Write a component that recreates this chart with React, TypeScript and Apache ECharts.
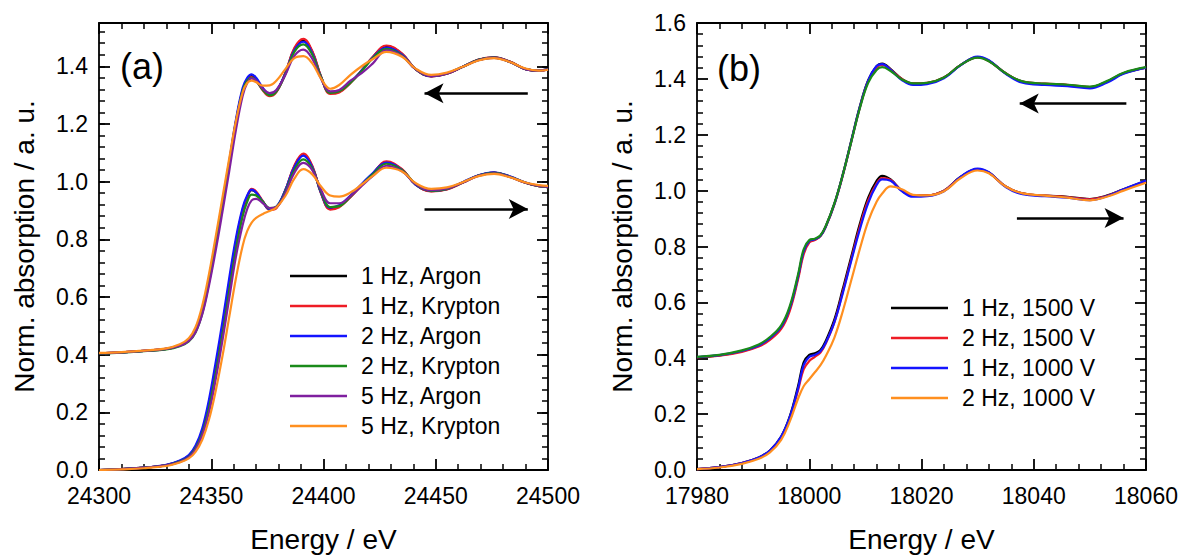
import React, { useEffect, useRef } from "react";
import * as echarts from "echarts";

const FONT = "'Liberation Sans', Arial, sans-serif";

// ---------- Panel (a) ----------
const xA = [24300,24310,24320,24330,24336,24340,24343,24346,24349,24352,24355,24358,24361,24364,24366,24368,24370,24373,24376,24379,24383,24387,24391,24395,24399,24403,24407,24412,24417,24422,24428,24435,24441,24448,24455,24462,24469,24476,24483,24490,24496,24500];

const namesA = ["1 Hz, Argon", "1 Hz, Krypton", "2 Hz, Argon", "2 Hz, Krypton", "5 Hz, Argon", "5 Hz, Krypton"];

// lower (forward) group
const loBlack = [0.000,0.003,0.008,0.017,0.031,0.049,0.080,0.136,0.232,0.358,0.498,0.648,0.792,0.902,0.946,0.970,0.962,0.930,0.904,0.910,0.970,1.052,1.093,1.052,0.958,0.906,0.914,0.948,0.988,1.028,1.068,1.042,0.990,0.967,0.974,0.997,1.021,1.031,1.017,0.996,0.984,0.981];
const loRed = [0.000,0.003,0.008,0.017,0.031,0.049,0.080,0.135,0.230,0.355,0.495,0.645,0.790,0.902,0.948,0.975,0.966,0.932,0.902,0.908,0.970,1.055,1.097,1.055,0.958,0.903,0.911,0.946,0.987,1.028,1.070,1.043,0.990,0.966,0.973,0.996,1.021,1.031,1.017,0.996,0.984,0.981];
const loBlue = [0.000,0.003,0.008,0.018,0.033,0.052,0.085,0.145,0.245,0.375,0.515,0.665,0.805,0.910,0.952,0.972,0.962,0.930,0.905,0.912,0.970,1.050,1.090,1.050,0.960,0.910,0.918,0.952,0.992,1.030,1.066,1.040,0.990,0.968,0.975,0.998,1.022,1.032,1.018,0.997,0.985,0.982];
const loGreen = [0.000,0.003,0.008,0.016,0.029,0.046,0.075,0.127,0.215,0.335,0.470,0.620,0.765,0.880,0.930,0.955,0.952,0.930,0.908,0.913,0.965,1.040,1.077,1.045,0.965,0.912,0.915,0.948,0.988,1.026,1.062,1.040,0.992,0.968,0.975,0.997,1.021,1.030,1.017,0.996,0.984,0.981];
const loPurple = [0.000,0.003,0.008,0.016,0.028,0.044,0.071,0.120,0.200,0.315,0.450,0.595,0.740,0.850,0.905,0.935,0.940,0.925,0.908,0.912,0.960,1.030,1.065,1.040,0.970,0.925,0.925,0.950,0.985,1.020,1.055,1.036,0.992,0.970,0.976,0.997,1.020,1.029,1.016,0.996,0.985,0.982];
const loOrange = [0.000,0.002,0.006,0.014,0.026,0.040,0.063,0.105,0.175,0.275,0.395,0.530,0.665,0.778,0.828,0.858,0.874,0.888,0.898,0.910,0.950,1.010,1.043,1.025,0.982,0.952,0.948,0.962,0.990,1.020,1.048,1.035,0.995,0.975,0.980,0.998,1.019,1.027,1.015,0.997,0.988,0.985];

// upper (backward) group
const upBlack = [0.405,0.408,0.413,0.420,0.432,0.450,0.482,0.550,0.658,0.788,0.924,1.064,1.208,1.318,1.354,1.366,1.356,1.322,1.300,1.313,1.376,1.460,1.490,1.450,1.362,1.308,1.312,1.343,1.385,1.432,1.470,1.443,1.390,1.365,1.374,1.398,1.422,1.431,1.416,1.390,1.384,1.389];
const upRed = [0.405,0.408,0.413,0.420,0.432,0.450,0.482,0.549,0.656,0.786,0.922,1.062,1.206,1.316,1.352,1.362,1.350,1.316,1.296,1.310,1.376,1.463,1.495,1.453,1.362,1.304,1.309,1.342,1.385,1.433,1.472,1.444,1.390,1.365,1.374,1.398,1.423,1.431,1.416,1.390,1.384,1.389];
const upBlue = [0.405,0.408,0.413,0.420,0.433,0.452,0.485,0.555,0.665,0.795,0.930,1.070,1.215,1.325,1.360,1.372,1.360,1.325,1.303,1.315,1.375,1.455,1.485,1.445,1.360,1.310,1.315,1.345,1.385,1.430,1.465,1.440,1.390,1.366,1.375,1.398,1.422,1.430,1.415,1.390,1.385,1.390];
const upGreen = [0.404,0.407,0.412,0.418,0.429,0.446,0.477,0.543,0.650,0.780,0.917,1.058,1.202,1.314,1.350,1.360,1.350,1.318,1.299,1.312,1.372,1.450,1.476,1.440,1.360,1.308,1.313,1.343,1.383,1.428,1.460,1.437,1.390,1.367,1.375,1.398,1.422,1.430,1.415,1.390,1.385,1.390];
const upPurple = [0.405,0.408,0.413,0.420,0.431,0.448,0.478,0.540,0.640,0.762,0.896,1.036,1.180,1.298,1.342,1.358,1.350,1.322,1.307,1.318,1.370,1.436,1.458,1.426,1.355,1.313,1.318,1.350,1.376,1.410,1.455,1.435,1.390,1.366,1.375,1.398,1.421,1.429,1.415,1.390,1.385,1.389];
const upOrange = [0.406,0.409,0.414,0.422,0.436,0.457,0.495,0.570,0.680,0.810,0.945,1.080,1.210,1.310,1.342,1.350,1.345,1.333,1.334,1.350,1.390,1.428,1.435,1.410,1.356,1.322,1.335,1.370,1.400,1.425,1.450,1.433,1.392,1.370,1.378,1.398,1.420,1.428,1.415,1.392,1.385,1.388];

// arrows (data coordinates): [fromX, toX, y]
const arrowsA = [[24491, 24445, 1.306], [24445, 24491, 0.905]];

// ---------- Panel (b) ----------
const xB = [17980,17984,17988,17991,17993,17995,17996.5,17998,17999,18000,18001,18002,18003,18004.5,18006,18007.5,18009,18010.5,18012,18013,18014.5,18016.5,18018.5,18021,18024,18027,18030,18032,18035,18038,18042,18046,18050,18053,18056,18060];

const namesB = ["1 Hz, 1500 V", "2 Hz, 1500 V", "1 Hz, 1000 V", "2 Hz, 1000 V"];

const bLoBlack = [0.003,0.010,0.025,0.045,0.070,0.120,0.190,0.300,0.385,0.412,0.418,0.430,0.465,0.540,0.650,0.765,0.880,0.975,1.035,1.053,1.040,1.000,0.982,0.983,1.000,1.050,1.077,1.065,1.015,0.990,0.982,0.978,0.970,0.982,1.005,1.035];
const bLoRed = [0.003,0.010,0.025,0.044,0.068,0.116,0.182,0.285,0.360,0.390,0.405,0.420,0.455,0.530,0.640,0.755,0.870,0.965,1.025,1.045,1.038,1.000,0.982,0.983,1.000,1.048,1.076,1.064,1.015,0.990,0.982,0.977,0.969,0.981,1.004,1.034];
const bLoBlue = [0.003,0.010,0.025,0.045,0.070,0.120,0.188,0.292,0.375,0.405,0.412,0.425,0.458,0.530,0.635,0.750,0.860,0.955,1.020,1.040,1.035,0.998,0.978,0.980,0.998,1.050,1.079,1.066,1.013,0.987,0.980,0.975,0.966,0.980,1.005,1.036];
const bLoOrange = [0.003,0.009,0.022,0.040,0.063,0.108,0.172,0.255,0.300,0.325,0.350,0.375,0.410,0.475,0.570,0.680,0.790,0.890,0.960,0.990,1.015,1.005,0.985,0.983,0.998,1.045,1.072,1.062,1.015,0.990,0.982,0.975,0.965,0.978,1.000,1.028];

const bUpBlack = [0.403,0.410,0.425,0.445,0.470,0.510,0.575,0.690,0.780,0.818,0.825,0.838,0.875,0.955,1.060,1.180,1.300,1.395,1.445,1.455,1.435,1.400,1.383,1.385,1.405,1.450,1.478,1.465,1.420,1.390,1.382,1.378,1.370,1.390,1.420,1.440];
const bUpRed = [0.403,0.409,0.423,0.442,0.466,0.505,0.568,0.682,0.772,0.814,0.823,0.837,0.873,0.952,1.056,1.176,1.296,1.392,1.440,1.450,1.433,1.400,1.384,1.386,1.405,1.450,1.477,1.464,1.420,1.390,1.383,1.379,1.371,1.390,1.420,1.440];
const bUpBlue = [0.404,0.411,0.426,0.446,0.472,0.512,0.578,0.692,0.782,0.820,0.826,0.838,0.874,0.953,1.058,1.178,1.298,1.394,1.446,1.453,1.432,1.396,1.378,1.381,1.402,1.449,1.480,1.467,1.418,1.386,1.378,1.374,1.366,1.386,1.418,1.440];
const bUpGreen = [0.405,0.412,0.428,0.449,0.476,0.518,0.585,0.700,0.790,0.823,0.828,0.840,0.876,0.955,1.058,1.176,1.294,1.386,1.432,1.442,1.428,1.398,1.384,1.386,1.405,1.450,1.476,1.463,1.420,1.391,1.383,1.379,1.372,1.392,1.422,1.442];

const arrowsB = [[18056.5, 18037.5, 1.312], [18037, 18056, 0.902]];

const C = {
  black: "#000000",
  red: "#ee1c25",
  blue: "#1414ff",
  green: "#1a8a1a",
  purple: "#7f1f9f",
  orange: "#ff8f1f",
};

function mk(name: string, color: string, xs: number[], ys: number[], xi: number, yi: number, extra: any = {}) {
  return {
    type: "line",
    name,
    xAxisIndex: xi,
    yAxisIndex: yi,
    data: xs.map((x, i) => [x, ys[i]]),
    showSymbol: false,
    symbol: "none",
    smooth: 0.4,
    silent: true,
    lineStyle: { color, width: 2.2 },
    itemStyle: { color },
    emphasis: { disabled: true },
    ...extra,
  };
}

function arrowLine(arr: number[][]) {
  return {
    silent: true,
    symbol: ["none", "arrow"],
    symbolSize: [15, 19],
    label: { show: false },
    emphasis: { disabled: true },
    lineStyle: { color: "#000", width: 2.5, type: "solid" },
    data: arr.map((a) => [{ coord: [a[0], a[2]] }, { coord: [a[1], a[2]] }]),
  };
}

const lblFmt = (v: number) => (Math.abs(v / 0.2 - Math.round(v / 0.2)) < 1e-6 ? v.toFixed(1) : "");

function xAx(grid: number, min: number, max: number, interval: number, bottom: boolean) {
  return {
    type: "value",
    gridIndex: grid,
    position: bottom ? "bottom" : "top",
    min,
    max,
    interval,
    name: bottom ? "Energy / eV" : "",
    nameLocation: "middle",
    nameGap: 55,
    nameTextStyle: { fontSize: 28, color: "#000", fontFamily: FONT },
    axisLine: { show: true, onZero: false, lineStyle: { color: "#000", width: 1.8 } },
    axisTick: { show: true, inside: true, length: 11, lineStyle: { color: "#000", width: 1.8 } },
    minorTick: { show: true, splitNumber: 5, length: 6, lineStyle: { color: "#000", width: 1.5 } },
    axisLabel: { show: bottom, fontSize: 23, color: "#000", fontFamily: FONT, margin: 14, formatter: (v: number) => String(v) },
    splitLine: { show: false },
  };
}

function yAx(grid: number, max: number, left: boolean, major: boolean, minorBuiltIn: boolean) {
  return {
    type: "value",
    gridIndex: grid,
    position: left ? "left" : "right",
    min: 0,
    max,
    interval: major ? 0.2 : 0.04,
    name: left && major ? "Norm. absorption / a. u." : "",
    nameLocation: "middle",
    nameGap: 61,
    nameTextStyle: { fontSize: 28, color: "#000", fontFamily: FONT },
    axisLine: { show: major, onZero: false, lineStyle: { color: "#000", width: 1.8 } },
    axisTick: {
      show: true,
      inside: true,
      length: major ? 11 : 6,
      lineStyle: { color: "#000", width: major ? 1.8 : 1.5 },
    },
    minorTick: { show: minorBuiltIn, splitNumber: 5, length: 6, lineStyle: { color: "#000", width: 1.5 } },
    axisLabel: { show: left && major, fontSize: 23, color: "#000", fontFamily: FONT, margin: 11, formatter: lblFmt },
    splitLine: { show: false },
  };
}

export default function App() {
  const ref = useRef<HTMLDivElement>(null);
  useEffect(() => {
    if (!ref.current) return;
    const chart = echarts.init(ref.current, undefined, { renderer: "svg" });

    const seriesA: any[] = [];
    const loA = [loBlack, loRed, loBlue, loGreen, loPurple, loOrange];
    const upA = [upBlack, upRed, upBlue, upGreen, upPurple, upOrange];
    const colA = [C.black, C.red, C.blue, C.green, C.purple, C.orange];
    loA.forEach((ys, i) =>
      seriesA.push(mk(namesA[i], colA[i], xA, ys, 0, 0, i === 0 ? { markLine: arrowLine(arrowsA) } : {}))
    );
    upA.forEach((ys, i) => seriesA.push(mk(namesA[i], colA[i], xA, ys, 0, 0)));

    const seriesB: any[] = [];
    const loB = [bLoBlack, bLoRed, bLoBlue, bLoOrange];
    const colB = [C.black, C.red, C.blue, C.orange];
    loB.forEach((ys, i) =>
      seriesB.push(mk(namesB[i], colB[i], xB, ys, 2, 4, i === 0 ? { markLine: arrowLine(arrowsB) } : {}))
    );
    const upB = [bUpBlack, bUpRed, bUpBlue, bUpGreen];
    const colBU = [C.black, C.red, C.blue, C.green];
    upB.forEach((ys, i) => seriesB.push(mk(namesB[i], colBU[i], xB, ys, 2, 4)));

    const legendBase = {
      orient: "vertical",
      itemWidth: 57,
      itemHeight: 2.5,
      icon: "rect",
      itemGap: 6,
      selectedMode: false,
      textStyle: { fontSize: 23, color: "#000", fontFamily: FONT, lineHeight: 24, padding: [0, 0, 0, 9] },
    };

    chart.setOption({
      animation: false,
      backgroundColor: "#ffffff",
      textStyle: { fontFamily: FONT },
      grid: [
        { left: 99, top: 23, width: 449, height: 449 },
        { left: 697, top: 23, width: 449, height: 449 },
      ],
      xAxis: [
        xAx(0, 24300, 24500, 50, true),
        xAx(0, 24300, 24500, 50, false),
        xAx(1, 17980, 18060, 20, true),
        xAx(1, 17980, 18060, 20, false),
      ],
      yAxis: [
        yAx(0, 1.55, true, true, false),
        yAx(0, 1.55, false, true, false),
        yAx(0, 1.55, true, false, false),
        yAx(0, 1.55, false, false, false),
        yAx(1, 1.6, true, true, true),
        yAx(1, 1.6, false, true, true),
      ],
      legend: [
        { ...legendBase, data: namesA, left: 285, top: 259 },
        { ...legendBase, data: namesB, left: 886, top: 291 },
      ],
      graphic: [
        { type: "text", x: 120, y: 66, style: { text: "(a)", fontSize: 36, fill: "#000", fontFamily: FONT, textVerticalAlign: "middle" } },
        { type: "text", x: 717, y: 68, style: { text: "(b)", fontSize: 36, fill: "#000", fontFamily: FONT, textVerticalAlign: "middle" } },
      ],
      series: [...seriesA, ...seriesB],
    });

    return () => chart.dispose();
  }, []);

  return (
    <div
      ref={ref}
      style={{ position: "fixed", left: 0, top: 0, width: 1182, height: 558, background: "#fff" }}
    />
  );
}
